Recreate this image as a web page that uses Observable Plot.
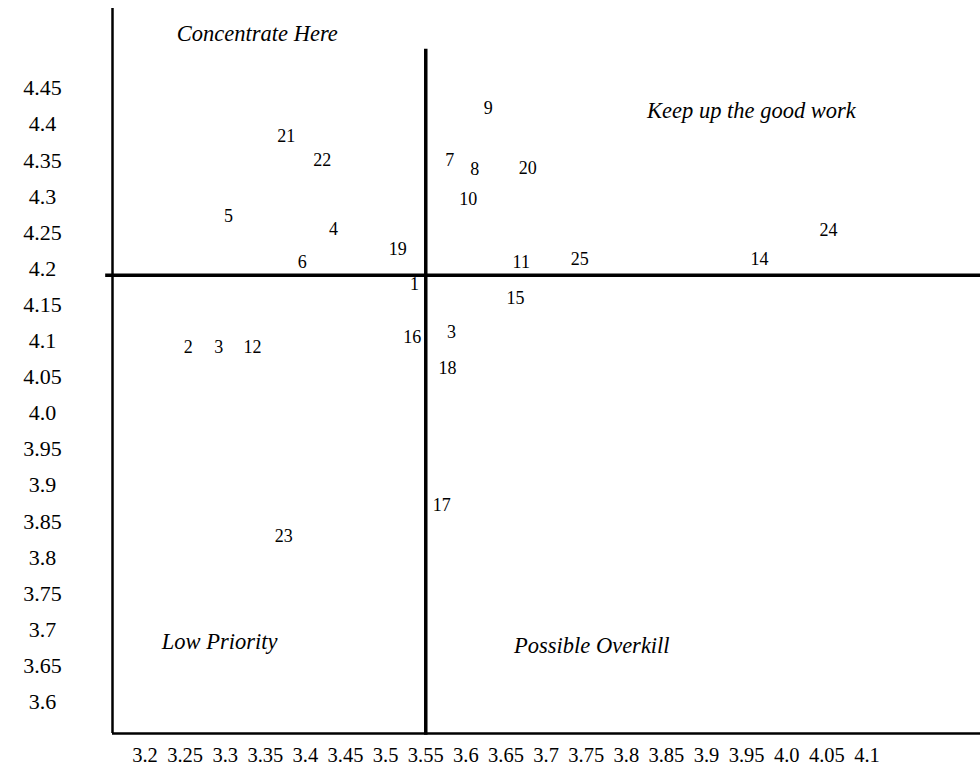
<!DOCTYPE html>
<html>
<head>
<meta charset="utf-8">
<script src="https://cdn.jsdelivr.net/npm/d3@7"></script>
<script src="https://cdn.jsdelivr.net/npm/@observablehq/plot@0.6"></script>
<style>
  html, body { margin: 0; padding: 0; background: #ffffff; }
  #chart svg { display: block; }
</style>
</head>
<body>
<div id="chart"></div>
<script>
// ---- data ----
const pointLabels = ["1", "2", "3", "3", "4", "5", "6", "7", "8", "9", "10", "11", "12", "14", "15", "16", "17", "18", "19", "20", "21", "22", "23", "24", "25"];
const pointX = [3.536, 3.254, 3.292, 3.582, 3.435, 3.304, 3.396, 3.580, 3.611, 3.628, 3.603, 3.669, 3.334, 3.966, 3.662, 3.533, 3.570, 3.577, 3.515, 3.677, 3.376, 3.421, 3.373, 4.052, 3.742];
const pointY = [4.178, 4.092, 4.092, 4.112, 4.2545, 4.2725, 4.209, 4.350, 4.338, 4.422, 4.296, 4.209, 4.091, 4.213, 4.159, 4.105, 3.872, 4.063, 4.227, 4.339, 4.383, 4.350, 3.829, 4.253, 4.213];

const quadrantNames = ["Concentrate Here", "Keep up the good work", "Low Priority", "Possible Overkill"];
const quadrantX = [3.340, 3.956, 3.293, 3.757];
const quadrantY = [4.525, 4.419, 3.684, 3.678];

const xTickLabels = ["3.2", "3.25", "3.3", "3.35", "3.4", "3.45", "3.5", "3.55", "3.6", "3.65", "3.7", "3.75", "3.8", "3.85", "3.9", "3.95", "4.0", "4.05", "4.1"];
const yTickLabels = ["3.6", "3.65", "3.7", "3.75", "3.8", "3.85", "3.9", "3.95", "4.0", "4.05", "4.1", "4.15", "4.2", "4.25", "4.3", "4.35", "4.4", "4.45"];

const xDomain = [3.1595, 4.2415];
const yDomain = [3.5564, 4.5606];
const dividerX = 3.55;           // vertical divider (x value)
const dividerXSpan = [3.554, 4.504];
const dividerY = 4.191;          // horizontal divider (y value)
const dividerYSpan = [3.151, 4.2415];

// ---- build ----
const points = pointLabels.map((label, i) => ({label, x: pointX[i], y: pointY[i]}));
const quadrants = quadrantNames.map((name, i) => ({name, x: quadrantX[i], y: quadrantY[i]}));
const xTicks = xTickLabels.map(Number);
const yTicks = yTickLabels.map(Number);

const serif = "'Liberation Serif', 'Times New Roman', Times, serif";

const chart = Plot.plot({
  width: 980,
  height: 766,
  marginLeft: 112,
  marginRight: 0,
  marginTop: 8,
  marginBottom: 33,
  style: {fontFamily: serif, color: "#000", background: "#fff"},
  x: {domain: xDomain, axis: null},
  y: {domain: yDomain, axis: null},
  marks: [
    Plot.axisY(yTicks, {
      tickSize: 0,
      tickPadding: 70,
      textAnchor: "middle",
      fontSize: 22,
      tickFormat: (d) => yTickLabels[yTicks.indexOf(d)],
      label: null
    }),
    Plot.axisX(xTicks, {
      tickSize: 0,
      tickPadding: 14,
      fontSize: 20.5,
      tickFormat: (d) => xTickLabels[xTicks.indexOf(d)],
      label: null
    }),
    // frame lines (left and bottom)
    Plot.ruleX([xDomain[0]], {stroke: "#000", strokeWidth: 2.5}),
    Plot.ruleY([yDomain[0]], {stroke: "#000", strokeWidth: 2.5}),
    // quadrant dividers
    Plot.ruleY([dividerY], {x1: dividerYSpan[0], x2: dividerYSpan[1], stroke: "#000", strokeWidth: 3.5}),
    Plot.ruleX([dividerX], {y1: dividerXSpan[0], y2: dividerXSpan[1], stroke: "#000", strokeWidth: 3.5}),
    // quadrant names
    Plot.text(quadrants, {x: "x", y: "y", text: "name", fontSize: 22.5, fontStyle: "italic", fill: "#000"}),
    // item numbers
    Plot.text(points, {x: "x", y: "y", text: "label", fontSize: 18, fill: "#000"})
  ]
});

document.getElementById("chart").appendChild(chart);
</script>
</body>
</html>
